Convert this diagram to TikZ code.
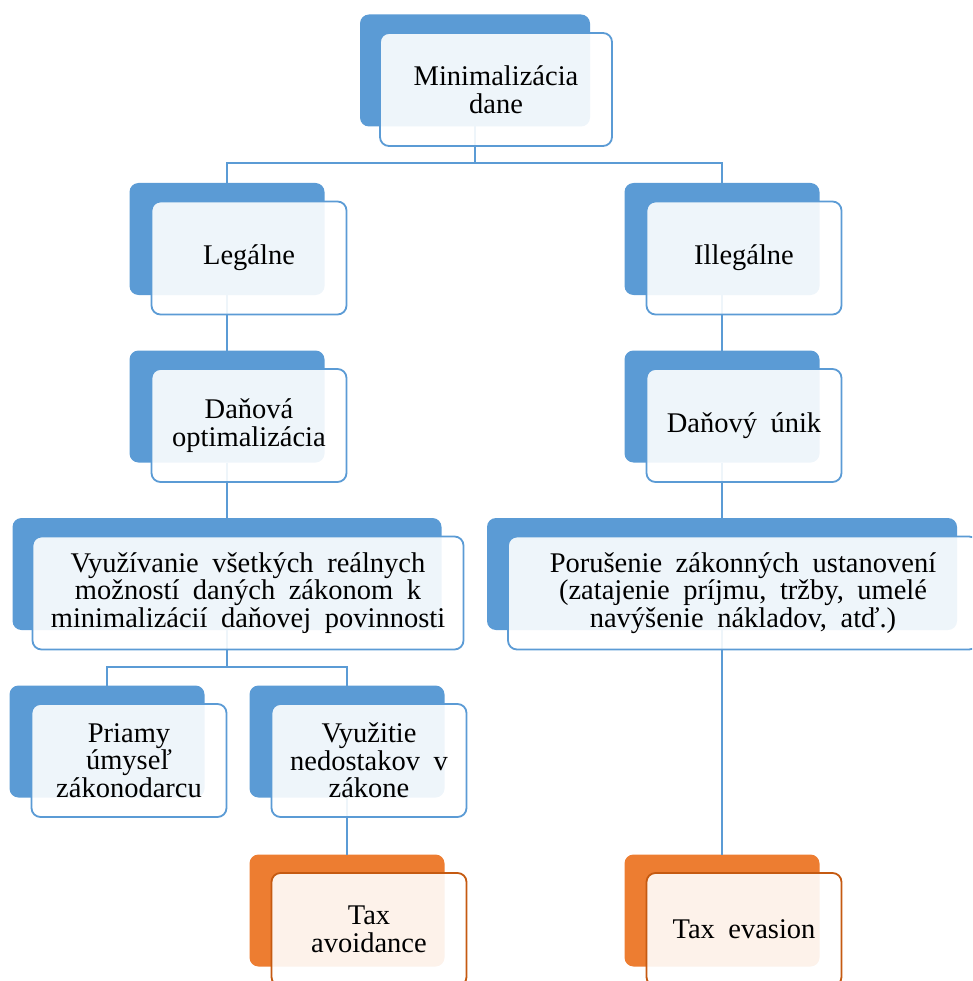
\documentclass[tikz,border=0pt]{standalone}
\usepackage{fontspec}
\setmainfont{Liberation Serif}[WordSpace=1.9]
\usepackage{tikz}
\usetikzlibrary{positioning}
\definecolor{boxblue}{HTML}{5B9BD5}
\definecolor{boxorange}{HTML}{ED7D31}
\definecolor{edgeorange}{HTML}{C55A11}
\tikzstyle{back} = [rounded corners=9pt, fill=boxblue, minimum width=195pt, minimum height=112pt, inner sep=0pt, outer sep=0pt]
\tikzstyle{front} = [rounded corners=9pt, draw=boxblue, line width=1.8pt, fill=white, fill opacity=0.9, text opacity=1, minimum width=195pt, minimum height=113pt, inner sep=0pt, align=center, font=\fontsize{28.5}{27.5}\selectfont]
\tikzstyle{link} = [boxblue, line width=2pt]

\begin{document}
\begin{tikzpicture}[x=1pt, y=1pt]
        \useasboundingbox (0,0) rectangle (972,-981);
        \clip (0,0) rectangle (972,-981);

        % back boxes
        \node[back, minimum width=230pt] (min) at (475,-70.5) {};
        \node[back] (leg) at (227,-239) {};
        \node[back] (ill) at (722,-239) {};
        \node[back] (opt) at (227,-406.5) {};
        \node[back] (unik) at (722,-406.5) {};
        \node[back, minimum width=429pt] (vyuz) at (227,-574) {};
        \node[back, minimum width=470pt] (por) at (722,-574) {};
        \node[back] (pri) at (107,-741.5) {};
        \node[back] (ned) at (347,-741.5) {};
        \node[back, fill=boxorange] (avoid) at (347,-910.5) {};
        \node[back, fill=boxorange] (evas) at (722,-910.5) {};

        % Edges
        \draw[link] (min.south) -- ++(0,-37) -| (leg.north);
        \draw[link] (min.south) -- ++(0,-37) -| (ill.north);
        \draw[link] (leg.south) -- (opt.north);
        \draw[link] (ill.south) -- (unik.north);
        \draw[link] (opt.south) -- (vyuz.north);
        \draw[link] (unik.south) -- (por.north);
        \draw[link] (vyuz.south) -- ++(0,-37) -| (pri.north);
        \draw[link] (vyuz.south) -- ++(0,-37) -| (ned.north);
        \draw[link] (ned.south) -- (avoid.north);
        \draw[link] (por.south) -- (evas.north);

        % front boxes
        \node[front, minimum width=232pt] (min-f) at ([xshift=21pt,yshift=-19pt]min.center) {Minimalizácia\\dane};
        \node[front] (leg-f) at ([xshift=22pt,yshift=-19pt]leg.center) {Legálne};
        \node[front] (ill-f) at ([xshift=22pt,yshift=-19pt]ill.center) {Illegálne};
        \node[front] (opt-f) at ([xshift=22pt,yshift=-19pt]opt.center) {Daňová\\optimalizácia};
        \node[front] (unik-f) at ([xshift=22pt,yshift=-19pt]unik.center) {Daňový únik};
        \node[front, minimum width=431pt] (vyuz-f) at ([xshift=21pt,yshift=-19pt]vyuz.center) {Využívanie všetkých reálnych\\možností daných zákonom k\\minimalizácií daňovej povinnosti};
        \node[front, minimum width=470pt] (por-f) at ([xshift=21pt,yshift=-19pt]por.center) {Porušenie zákonných ustanovení\\(zatajenie príjmu, tržby, umelé\\navýšenie nákladov, atď.)};
        \node[front] (pri-f) at ([xshift=22pt,yshift=-19pt]pri.center) {Priamy\\úmyseľ\\zákonodarcu};
        \node[front] (ned-f) at ([xshift=22pt,yshift=-19pt]ned.center) {Využitie\\nedostakov v\\zákone};
        \node[front, draw=edgeorange] (avoid-f) at ([xshift=22pt,yshift=-19pt]avoid.center) {Tax\\avoidance};
        \node[front, draw=edgeorange] (evas-f) at ([xshift=22pt,yshift=-19pt]evas.center) {Tax evasion};
\end{tikzpicture}
\end{document}
